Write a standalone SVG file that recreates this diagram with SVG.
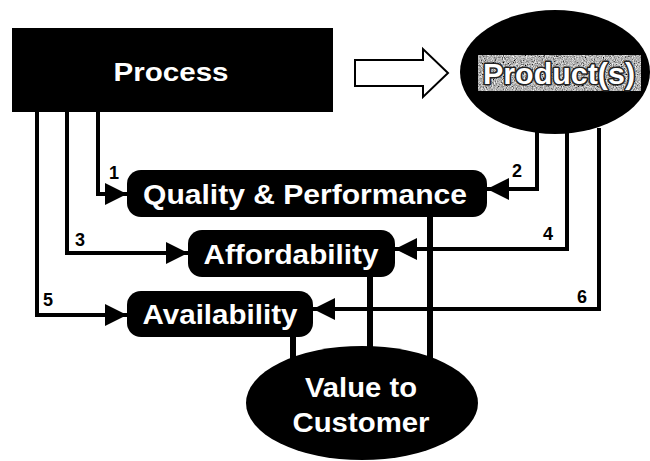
<svg xmlns="http://www.w3.org/2000/svg" width="650" height="461" viewBox="0 0 650 461">
<style>
  .node { fill: #000; }
  .lbl { font-family: "Liberation Sans", Arial, sans-serif; font-weight: bold; fill: #fff; text-anchor: middle; }
  .num { font-family: "Liberation Sans", Arial, sans-serif; font-weight: bold; fill: #000; font-size: 18px; }
  .thin { stroke: #000; stroke-width: 4; fill: none; }
  .thick { stroke: #000; stroke-width: 6; fill: none; }
</style>
<defs>
  <marker id="ah" markerUnits="userSpaceOnUse" markerWidth="22" markerHeight="22" refX="22" refY="11" orient="auto">
    <path d="M0,0 L22,11 L0,22 z" fill="#000"/>
  </marker>
  <filter id="grain" x="0" y="0" width="1" height="1">
    <feTurbulence type="fractalNoise" baseFrequency="0.9" numOctaves="2" seed="5"/>
    <feColorMatrix type="saturate" values="0"/>
    <feComponentTransfer>
      <feFuncR type="linear" slope="2" intercept="-0.55"/>
      <feFuncG type="linear" slope="2" intercept="-0.55"/>
      <feFuncB type="linear" slope="2" intercept="-0.55"/>
      <feFuncA type="linear" slope="0" intercept="1"/>
    </feComponentTransfer>
    <feComposite in2="SourceGraphic" operator="in"/>
  </filter>
</defs>
<rect width="650" height="461" fill="#fff"/>

<g id="connectors">
  <!-- Process to value dimensions -->
  <polyline class="thin" points="98,112 98,194 127,194" marker-end="url(#ah)"/>
  <polyline class="thin" points="67,112 67,253 188,253" marker-end="url(#ah)"/>
  <polyline class="thin" points="37,112 37,315 127,315" marker-end="url(#ah)"/>
  <!-- Product(s) to value dimensions -->
  <polyline class="thin" points="537,130 537,189 487,189" marker-end="url(#ah)"/>
  <polyline class="thin" points="567,130 567,249 395,249" marker-end="url(#ah)"/>
  <polyline class="thin" points="599,128 599,309 313,309" marker-end="url(#ah)"/>
  <!-- Dimensions to Value to Customer -->
  <line class="thick" x1="430" y1="215" x2="430" y2="380"/>
  <line class="thick" x1="370" y1="275" x2="370" y2="380"/>
  <line class="thick" x1="293" y1="335" x2="293" y2="380"/>
  <!-- Process to Product(s) block arrow -->
  <polygon points="355,60 423,60 423,49 448,73 423,97 423,86 355,86" fill="#fff" stroke="#000" stroke-width="2"/>
  <text class="num" x="109" y="179">1</text>
  <text class="num" x="512" y="177">2</text>
  <text class="num" x="75" y="246">3</text>
  <text class="num" x="543" y="240">4</text>
  <text class="num" x="43" y="306">5</text>
  <text class="num" x="577" y="303">6</text>
</g>

<g id="process">
  <rect class="node" x="12" y="28" width="321" height="84"/>
  <text class="lbl" x="171" y="81" font-size="26" textLength="115" lengthAdjust="spacingAndGlyphs">Process</text>
</g>

<g id="products">
  <ellipse class="node" cx="555" cy="72" rx="95" ry="62"/>
  <rect x="478" y="55" width="163" height="36" fill="#888" filter="url(#grain)"/>
  <text class="lbl" x="559" y="84" font-size="29" stroke="#222" stroke-width="3" paint-order="stroke" stroke-linejoin="round" textLength="152" lengthAdjust="spacingAndGlyphs">Product(s)</text>
</g>

<g id="quality">
  <rect class="node" x="127" y="170" width="360" height="47" rx="14"/>
  <text class="lbl" x="305" y="204" font-size="28" textLength="324" lengthAdjust="spacingAndGlyphs">Quality &amp; Performance</text>
</g>

<g id="affordability">
  <rect class="node" x="188" y="230" width="207" height="47" rx="14"/>
  <text class="lbl" x="291" y="264" font-size="28" textLength="175" lengthAdjust="spacingAndGlyphs">Affordability</text>
</g>

<g id="availability">
  <rect class="node" x="127" y="291" width="186" height="46" rx="14"/>
  <text class="lbl" x="220" y="324" font-size="28" textLength="155" lengthAdjust="spacingAndGlyphs">Availability</text>
</g>

<g id="value">
  <ellipse class="node" cx="362" cy="403" rx="116" ry="57"/>
  <text class="lbl" x="361" y="397" font-size="28" textLength="112" lengthAdjust="spacingAndGlyphs">Value to</text>
  <text class="lbl" x="361" y="432" font-size="28" textLength="137" lengthAdjust="spacingAndGlyphs">Customer</text>
</g>
</svg>
